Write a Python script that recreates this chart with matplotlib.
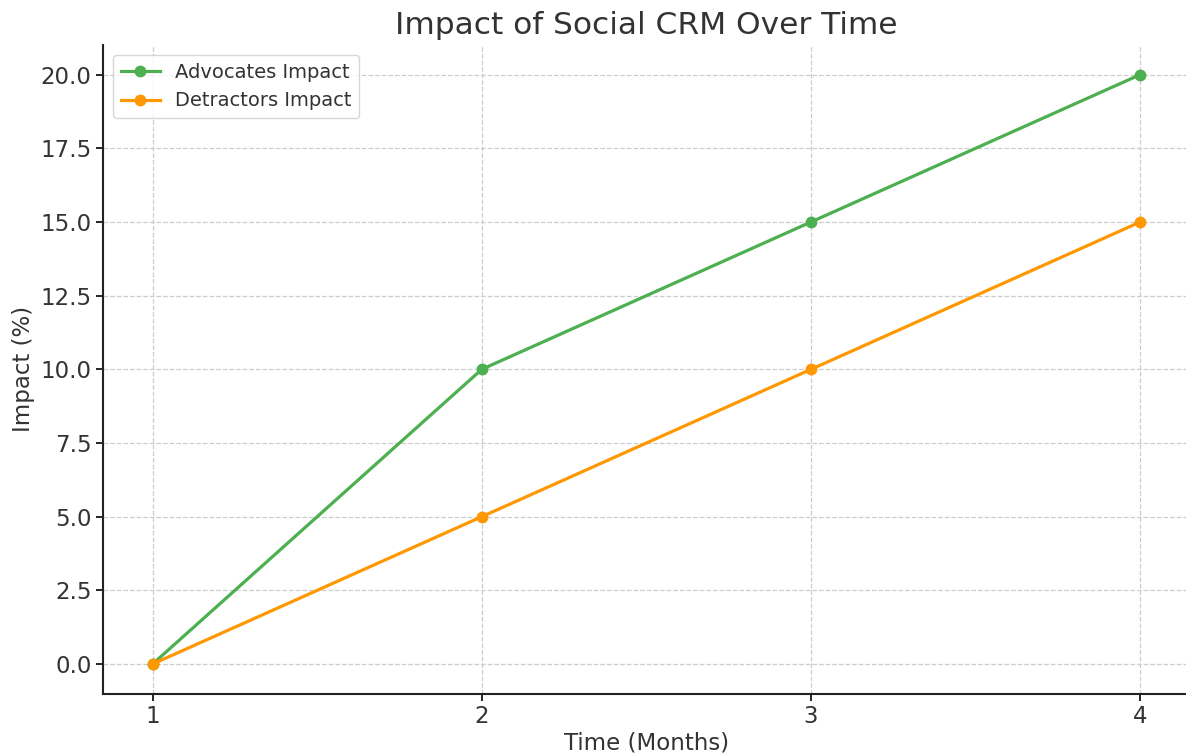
import matplotlib
matplotlib.use("Agg")
import matplotlib.pyplot as plt

plt.rcParams["font.family"] = ["DejaVu Sans"]

# data
months = [1, 2, 3, 4]
advocates = [0, 10, 15, 20]
detractors = [0, 5, 10, 15]

text_color = "#333333"

fig, ax = plt.subplots(figsize=(11.86, 7.53), dpi=100)
fig.subplots_adjust(left=0.087, right=1.003, top=0.94, bottom=0.079)

ax.plot(months, advocates, marker="o", color="#4CAF50", linewidth=2.3, markersize=7.5, label="Advocates Impact")
ax.plot(months, detractors, marker="o", color="#FF9800", linewidth=2.3, markersize=7.5, label="Detractors Impact")

ax.set_title("Impact of Social CRM Over Time", fontsize=22.5, color=text_color, pad=8)
ax.set_xlabel("Time (Months)", fontsize=16.5, color=text_color, labelpad=2)
ax.set_ylabel("Impact (%)", fontsize=16.5, color=text_color)
ax.set_xticks(months)
ax.tick_params(labelsize=16.5, labelcolor=text_color, direction="out", length=5, width=1.2)

ax.grid(True, linestyle="--", color="#cccccc", linewidth=0.9)
ax.spines["top"].set_visible(False)
ax.spines["right"].set_visible(False)
for s in ("left", "bottom"):
    ax.spines[s].set_linewidth(1.5)
    ax.spines[s].set_color("#222222")

leg = ax.legend(loc="upper left", fontsize=14)
for t in leg.get_texts():
    t.set_color(text_color)

fig.savefig("out.png")
